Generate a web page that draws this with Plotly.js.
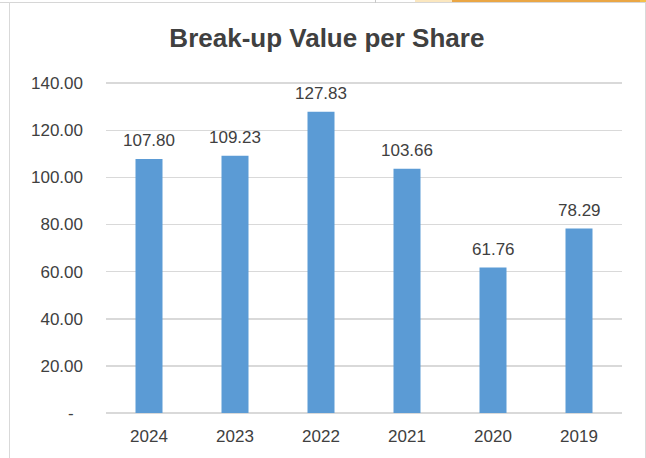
<!DOCTYPE html>
<html>
<head>
<meta charset="utf-8">
<script src="https://cdn.plot.ly/plotly-3.0.1.min.js"></script>
<style>
  html, body { margin: 0; padding: 0; background: #ffffff; }
  #wrap { position: relative; width: 646px; height: 458px; overflow: hidden; }
  #chart { position: absolute; left: 0; top: 0; width: 646px; height: 458px; }
  .deco { position: absolute; pointer-events: none; }
</style>
</head>
<body>
<div id="wrap">
  <div id="chart"></div>
  <div class="deco" style="left:0;top:2px;width:646px;height:1px;background:#d6d6d6;"></div>
  <div class="deco" style="left:375px;top:0;width:1px;height:3px;background:#c8c8c8;"></div>
  <div class="deco" style="left:415px;top:0;width:37px;height:2px;background:#fbe7bf;"></div>
  <div class="deco" style="left:452px;top:0;width:188px;height:2px;background:#eaa645;"></div>
  <div class="deco" style="left:640px;top:0;width:6px;height:2px;background:#f5c04a;"></div>
  <div class="deco" style="left:9px;top:2px;width:1px;height:456px;background:#d9d9d9;"></div>
  <div class="deco" style="left:645px;top:2px;width:1px;height:456px;background:#d9d9d9;"></div>
</div>
<script>
const years = ["2024", "2023", "2022", "2021", "2020", "2019"];
const values = [107.80, 109.23, 127.83, 103.66, 61.76, 78.29];
const yTickVals = [0, 20, 40, 60, 80, 100, 120, 140];
const yTickText = ["-\u2007", "20.00", "40.00", "60.00", "80.00", "100.00", "120.00", "140.00"];

const textColor = "#404040";
const fontFam = "Liberation Sans, Arial, sans-serif";

const trace = {
  type: "bar",
  x: years,
  y: values,
  marker: { color: "#5b9bd5" },
  hoverinfo: "x+y"
};

const annotations = years.map((yr, i) => ({
  x: i,
  y: values[i],
  xref: "x",
  yref: "y",
  text: values[i].toFixed(2),
  showarrow: false,
  yanchor: "bottom",
  xanchor: "center",
  yshift: 7,
  font: { family: fontFam, size: 17, color: textColor }
}));

const layout = {
  width: 646,
  height: 458,
  margin: { l: 106, r: 24, t: 82, b: 45 },
  paper_bgcolor: "rgba(0,0,0,0)",
  plot_bgcolor: "rgba(0,0,0,0)",
  bargap: 0.686,
  showlegend: false,
  title: {
    text: "<b>Break-up Value per Share</b>",
    font: { family: fontFam, size: 26, color: textColor },
    x: 0.506,
    xanchor: "center",
    xref: "container",
    y: 1 - 38 / 458,
    yanchor: "middle",
    yref: "container"
  },
  xaxis: {
    type: "category",
    categoryorder: "array",
    categoryarray: years,
    range: [-0.5, years.length - 0.5],
    showgrid: false,
    showline: false,
    zeroline: false,
    ticks: "",
    ticklabelstandoff: 11,
    tickfont: { family: fontFam, size: 17, color: textColor }
  },
  yaxis: {
    range: [0, 140.5],
    tickvals: yTickVals,
    ticktext: yTickText,
    showgrid: true,
    gridcolor: "#d9d9d9",
    gridwidth: 1.5,
    zeroline: true,
    zerolinecolor: "#d9d9d9",
    zerolinewidth: 1.5,
    showline: false,
    ticks: "",
    ticklabelstandoff: 22,
    tickfont: { family: fontFam, size: 17, color: textColor }
  },
  annotations: annotations
};

Plotly.newPlot("chart", [trace], layout, { displayModeBar: false, staticPlot: true });
</script>
</body>
</html>
